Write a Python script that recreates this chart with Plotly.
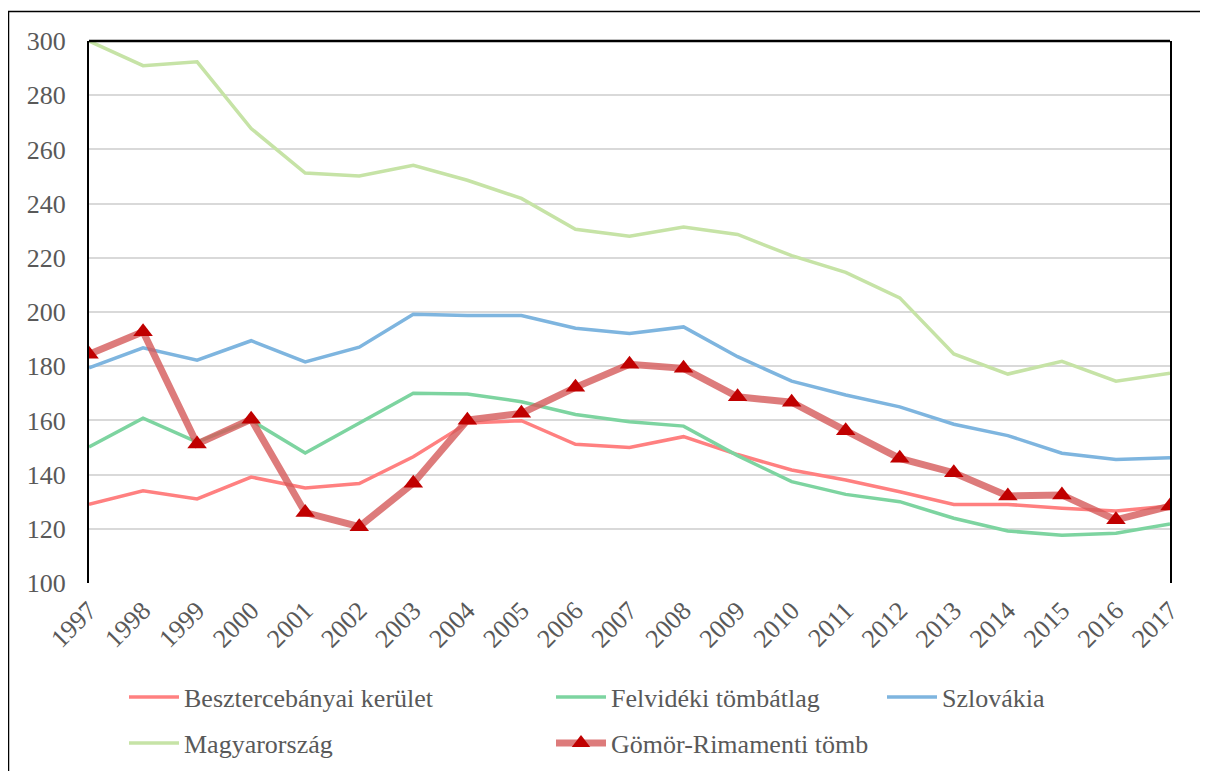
import plotly.graph_objects as go

years = list(range(1997, 2018))

besztercebanyai = [129.0, 134.0, 131.0, 139.1, 135.1, 136.7, 146.6, 159.0, 159.9, 151.2, 150.0,
                   154.0, 147.4, 141.7, 138.0, 133.7, 129.0, 129.0, 127.6, 126.6, 128.4]
felvideki = [150.2, 160.8, 152.0, 160.0, 148.0, 159.1, 170.0, 169.7, 166.9, 162.2, 159.5,
             157.9, 147.0, 137.4, 132.7, 130.0, 123.9, 119.2, 117.6, 118.4, 121.8]
szlovakia = [179.4, 186.8, 182.2, 189.4, 181.6, 187.0, 199.2, 198.7, 198.7, 194.0, 192.1,
             194.5, 183.5, 174.5, 169.4, 165.0, 158.6, 154.4, 147.9, 145.6, 146.2]
magyarorszag = [300.0, 290.9, 292.3, 267.7, 251.3, 250.2, 254.1, 248.6, 241.9, 230.5, 228.0,
                231.4, 228.6, 220.8, 214.6, 205.2, 184.5, 177.1, 181.8, 174.5, 177.4]
gomor = [184.4, 192.7, 151.3, 160.4, 126.0, 120.8, 136.8, 160.1, 162.6, 172.2, 180.7,
         179.2, 168.7, 166.7, 156.2, 146.0, 140.7, 132.1, 132.5, 123.3, 128.4]

y_ticks = [100, 120, 140, 160, 180, 200, 220, 240, 260, 280, 300]

FONT = "Liberation Serif"
TXT = "#595959"

# page body has an 8px margin; figure coords = screen coords - 8
OFF = 8
W, H = 1200, 763
L, T = 89 - OFF, 41 - OFF
R, B = W - (1170 - OFF), H - (583 - OFF)
PW, PH = W - L - R, H - T - B


def px_x(sx):
    return (sx - OFF - L) / PW


def px_y(sy):
    return (H - B - (sy - OFF)) / PH


fig = go.Figure()
series = [
    ("Besztercebányai kerület", besztercebanyai, "#FF8080", "legend"),
    ("Felvidéki tömbátlag", felvideki, "#7DD4A0", "legend2"),
    ("Szlovákia", szlovakia, "#7EB5DF", "legend3"),
    ("Magyarország", magyarorszag, "#C6E3A6", "legend4"),
]
for name, vals, col, lg in series:
    fig.add_trace(go.Scatter(x=years, y=vals, mode="lines", name=name,
                             line=dict(color=col, width=3.5), legend=lg))

fig.add_trace(go.Scatter(x=years, y=gomor, mode="lines+markers", name="Gömör-Rimamenti tömb",
                         line=dict(color="rgba(212,90,90,0.8)", width=7),
                         marker=dict(symbol="triangle-up", size=17, color="#C00000"),
                         legend="legend5"))

legend_pos = [("legend", 124, 697), ("legend2", 551, 697), ("legend3", 882, 697),
              ("legend4", 124, 743), ("legend5", 551, 743)]
legend_kw = {}
for key, lx, ly in legend_pos:
    legend_kw[key] = dict(x=px_x(lx), y=px_y(ly), xanchor="left", yanchor="middle",
                          font=dict(family=FONT, size=26, color=TXT),
                          bgcolor="rgba(0,0,0,0)", borderwidth=0, itemwidth=50)

fig.update_layout(
    width=W, height=H,
    margin=dict(l=L, r=R, t=T, b=B, autoexpand=False),
    font=dict(family=FONT, color=TXT),
    paper_bgcolor="white", plot_bgcolor="white",
    showlegend=True,
    **legend_kw,
    xaxis=dict(range=[1997, 2017], tickmode="array", tickvals=years,
               ticktext=[str(y) for y in years], tickangle=-45,
               tickfont=dict(family=FONT, size=26, color=TXT),
               showgrid=False, zeroline=False, showline=False, ticks="",
               ticklabelstandoff=6, automargin=False),
    yaxis=dict(range=[100, 300], tickmode="array", tickvals=y_ticks,
               tickfont=dict(family=FONT, size=26, color=TXT),
               showgrid=True, gridcolor="#D9D9D9", gridwidth=1.5,
               zeroline=False, showline=True, linecolor="black", linewidth=2,
               mirror=True, ticks="", ticklabelstandoff=16, automargin=False),
)

# plot-area top border
fig.add_shape(type="line", xref="paper", yref="paper", x0=0, x1=1, y0=1, y1=1,
              line=dict(color="black", width=2.5))
# outer chart border
fig.add_shape(type="rect", xref="paper", yref="paper",
              x0=px_x(8.5), x1=px_x(1220), y0=px_y(11.5), y1=px_y(790),
              line=dict(color="black", width=1.5), layer="below")

fig.write_html("out.html")
